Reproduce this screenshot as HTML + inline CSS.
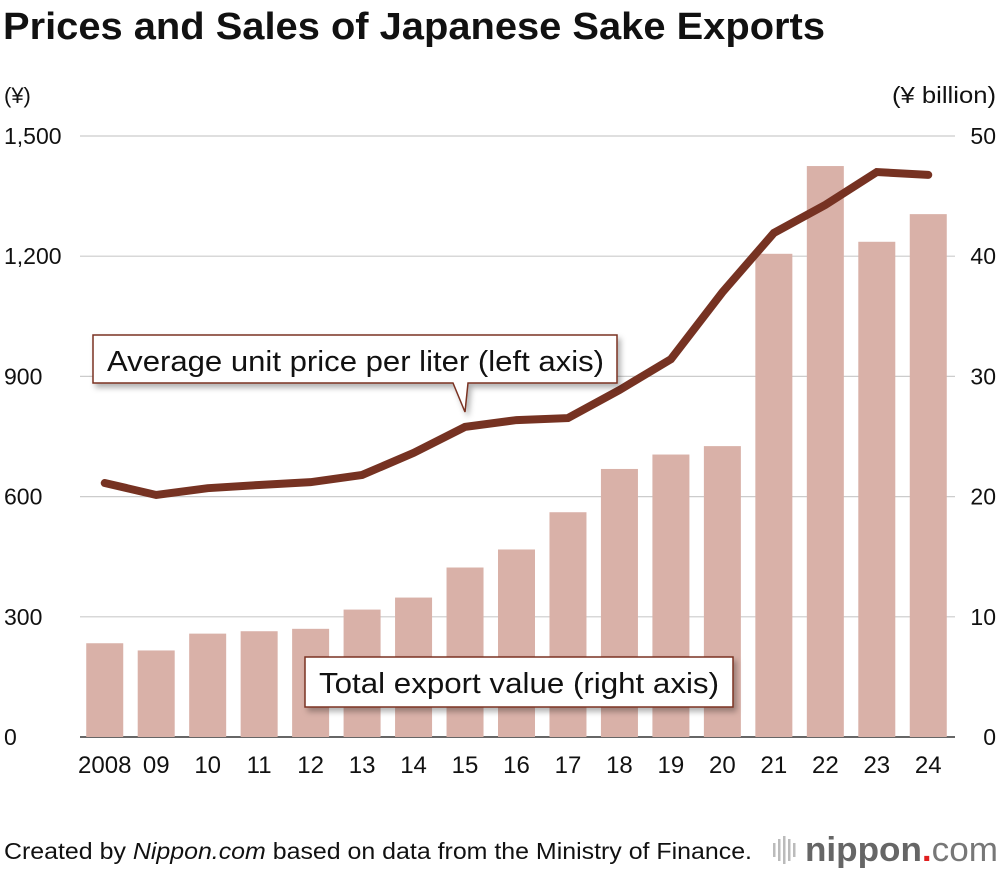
<!DOCTYPE html>
<html><head><meta charset="utf-8"><style>
body{margin:0;background:#fff;font-family:"Liberation Sans",sans-serif;}
svg text{font-family:"Liberation Sans",sans-serif;}
</style></head><body>
<svg width="1000" height="870" xmlns="http://www.w3.org/2000/svg">
<defs><filter id="sh" x="-10%" y="-30%" width="130%" height="180%"><feDropShadow dx="3" dy="4" stdDeviation="3" flood-color="#000" flood-opacity="0.3"/></filter></defs>
<text x="3" y="39" font-size="38" font-weight="bold" fill="#111" textLength="822" lengthAdjust="spacingAndGlyphs">Prices and Sales of Japanese Sake Exports</text>
<text x="4" y="103" font-size="22" fill="#111">(¥)</text>
<text x="996" y="103" font-size="23" fill="#111" text-anchor="end" textLength="104" lengthAdjust="spacingAndGlyphs">(¥ billion)</text>
<g id="grid"></g><g id="bars"></g><g id="line"></g><g id="axes"></g>
<g filter="url(#sh)">
<path d="M93,335 H617 V383 H468 L465,412 L453,383 H93 Z" fill="#fff" stroke="#7a3322" stroke-width="1.5"/>
</g>
<text x="107" y="371" font-size="29" fill="#111" textLength="497" lengthAdjust="spacingAndGlyphs">Average unit price per liter (left axis)</text>
<g filter="url(#sh)">
<rect x="305" y="657" width="428" height="50" fill="#fff" stroke="#7a3322" stroke-width="1.5"/>
</g>
<text x="319" y="693" font-size="29" fill="#111" textLength="400" lengthAdjust="spacingAndGlyphs">Total export value (right axis)</text>
<text x="4" y="859" font-size="23" fill="#111" textLength="748" lengthAdjust="spacingAndGlyphs">Created by <tspan font-style="italic">Nippon.com</tspan> based on data from the Ministry of Finance.</text>
<g>
<g fill="#bbb"><rect x="773" y="843" width="2.5" height="14"/><rect x="778" y="839" width="2.5" height="22"/><rect x="783" y="836" width="2.5" height="28"/><rect x="788" y="839" width="2.5" height="22"/><rect x="793" y="843" width="2.5" height="14"/></g>
<text x="805" y="861" font-size="34" font-weight="bold" fill="#666" textLength="193" lengthAdjust="spacingAndGlyphs">nippon<tspan fill="#e01f1f">.</tspan><tspan font-weight="normal" fill="#777">com</tspan></text>
</g>
</svg>
<script>
const categories=["2008","09","10","11","12","13","14","15","16","17","18","19","20","21","22","23","24"];
const exportValues=[7.8,7.2,8.6,8.8,9.0,10.6,11.6,14.1,15.6,18.7,22.3,23.5,24.2,40.2,47.5,41.2,43.5];
const unitPrices=[634,604,621,629,636,654,709,774,791,796,866,943,1110,1258,1328,1410,1403];
const leftTicks=[0,300,600,900,1200,1500];
const rightTicks=[0,10,20,30,40,50];
const NS="http://www.w3.org/2000/svg";
const y0=737,y1=136,xL=80,xR=955;
const yL=v=>y0-(v/1500)*(y0-y1);
const yR=v=>y0-(v/50)*(y0-y1);
const step=(xR-xL)/categories.length;
const xC=i=>xL+step*(i+0.5)-1;
function mk(t,a,p){const e=document.createElementNS(NS,t);for(const k in a)e.setAttribute(k,a[k]);p.appendChild(e);return e;}
const grid=document.getElementById('grid'),bars=document.getElementById('bars'),line=document.getElementById('line'),axes=document.getElementById('axes');
leftTicks.forEach((v,i)=>{
 const g=mk('line',{x1:xL,x2:xR,y1:yL(v),y2:yL(v),stroke:v===0?'#333':'#ccc','stroke-width':v===0?1.5:1.2},grid);
 
 
 const t=mk('text',{x:4,y:yL(v)+8,'font-size':23,fill:'#111'},axes);t.textContent=v.toLocaleString('en-US');
 
 
});
rightTicks.forEach(v=>{
 const t=mk('text',{x:996,y:yR(v)+8,'font-size':23,fill:'#111','text-anchor':'end'},axes);t.textContent=v;
 
 
});
const bw=37;
categories.forEach((c,i)=>{
 const r=mk('rect',{x:xC(i)-bw/2,y:yR(exportValues[i]),width:bw,height:y0-yR(exportValues[i]),fill:'#d9b1a8'},bars);
 
 
 const t=mk('text',{x:xC(i),y:773,'font-size':24,fill:'#111','text-anchor':'middle'},axes);t.textContent=c;
 
 
});
const pts=unitPrices.map((v,i)=>xC(i)+','+yL(v)).join(' ');
const pl=mk('polyline',{points:pts,fill:'none',stroke:'#763222','stroke-width':8,'stroke-linejoin':'miter','stroke-linecap':'round'},line);


</script>
</body></html>
